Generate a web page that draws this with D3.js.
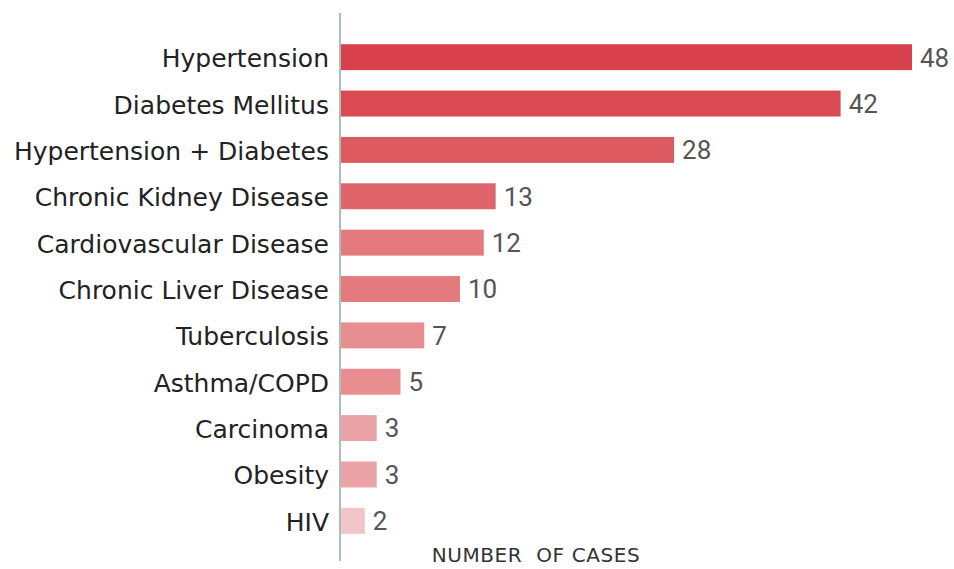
<!DOCTYPE html>
<html>
<head>
    <meta charset="utf-8">
    <title>Comorbidities</title>
    <script src="https://d3js.org/d3.v7.min.js"></script>
    <style>
      body { margin: 0; background: #fff; }
    </style>
</head>
<body>
<script type="text/javascript">
    var categories = [
      'Hypertension', 'Diabetes Mellitus', 'Hypertension + Diabetes',
      'Chronic Kidney Disease', 'Cardiovascular Disease', 'Chronic Liver Disease',
      'Tuberculosis', 'Asthma/COPD', 'Carcinoma', 'Obesity', 'HIV'
    ];
    var cases = [48, 42, 28, 13, 12, 10, 7, 5, 3, 3, 2];
    var axisTitle = 'NUMBER  OF CASES';

    // bar fills, darkest first
    var palette = ['#d8404b', '#da4a53', '#dd5a61', '#e0646c', '#e47a7e', '#e47a7e',
                   '#e88e91', '#e88e91', '#eca3a6', '#eca3a6', '#f3c5c7'];

    var width = 954, height = 569;

    var svg = d3.select('body')
      .append('svg')
        .attr('width', width)
        .attr('height', height);

    var x = d3.scaleLinear()
      .domain([0, 48])
      .range([341, 912]);

    var y = d3.scaleBand()
      .domain(categories)
      .range([34, 544])
      .paddingInner(0.44)
      .paddingOuter(0.22);

    // bars
    svg.selectAll('rect.bar')
      .data(cases)
      .enter()
        .append('rect')
          .attr('class', 'bar')
          .attr('x', x(0))
          .attr('y', function(d, i) { return y(categories[i]); })
          .attr('height', y.bandwidth())
          .attr('width', function(d) { return x(d) - x(0); })
          .attr('fill', function(d, i) { return palette[i]; });

    // value labels
    svg.selectAll('text.value')
      .data(cases)
      .enter()
        .append('text')
          .attr('class', 'value')
          .attr('x', function(d) { return x(d) + 8; })
          .attr('y', function(d, i) { return y(categories[i]) + y.bandwidth() / 2; })
          .attr('dy', '0.36em')
          .attr('font-family', 'Roboto, sans-serif')
          .attr('font-size', 26)
          .attr('fill', '#555')
          .text(function(d) { return d; });

    // category axis
    var yAxis = d3.axisLeft(y).tickSize(0).tickPadding(12);
    var gy = svg.append('g')
      .attr('transform', 'translate(' + x(0) + ',0)')
      .call(yAxis);
    gy.select('.domain').remove();
    gy.selectAll('text')
      .attr('dy', '0.4em')
      .attr('font-family', '"DejaVu Sans", sans-serif')
      .attr('font-size', 25)
      .attr('fill', '#222');

    svg.append('line')
      .attr('x1', x(0) - 1).attr('x2', x(0) - 1)
      .attr('y1', 13).attr('y2', 561)
      .attr('stroke', '#8fa9a9')
      .attr('stroke-width', 1.5);

    svg.append('text')
      .attr('x', 536)
      .attr('y', 562)
      .attr('text-anchor', 'middle')
      .attr('font-family', '"DejaVu Sans", sans-serif')
      .attr('font-size', 20)
      .attr('letter-spacing', 0.6)
      .attr('fill', '#333')
      .attr('xml:space', 'preserve')
      .text(axisTitle);
</script>
</body>
</html>
